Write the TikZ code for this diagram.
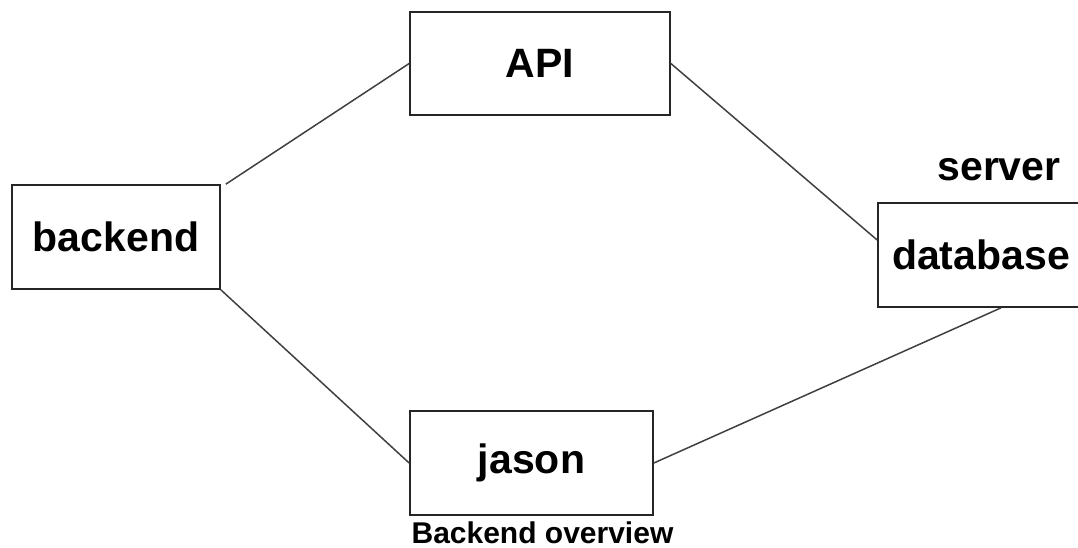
\documentclass[tikz,border=0pt]{standalone}
\usepackage{fontspec}
\setmainfont{Liberation Sans}
\usetikzlibrary{positioning}

\tikzset{
    part/.style = {draw=black!85, line width=1.7pt, fill=white, inner sep=0pt,
        minimum height=104pt, font=\fontsize{41}{49}\selectfont\bfseries},
    link/.style = {draw=black!75, line width=1.5pt}
}

\begin{document}
\begin{tikzpicture}[x=1pt, y=-1pt]
        \useasboundingbox (0,0) rectangle (1078,548);

        \node [part, minimum width=208pt] (backend) at (116,237) {backend};
        \node [part, minimum width=260pt, minimum height=103pt] (API) at (540,63.5) {API};
        \node [part, minimum width=243pt] (jason) at (531.5,463) {jason};
        \node [part, minimum width=206pt] (database) at (981,255) {database};

        \draw [link] ([xshift=5pt]backend.north east) -- (API.west);
        \draw [link] (API.east) -- ([yshift=15pt]database.west);
        \draw [link] (backend.south east) -- (jason.west);
        \draw [link] (jason.east) -- ([xshift=20pt]database.south);

        \node [above of = database, node distance = 85pt, xshift = 18pt,
        font=\fontsize{41}{49}\selectfont\bfseries] (server) {server};

        \node [below of = jason, node distance = 70pt, xshift = 11pt,
        font=\fontsize{30}{36}\selectfont\bfseries] (caption) {Backend overview};
\end{tikzpicture}
\end{document}
